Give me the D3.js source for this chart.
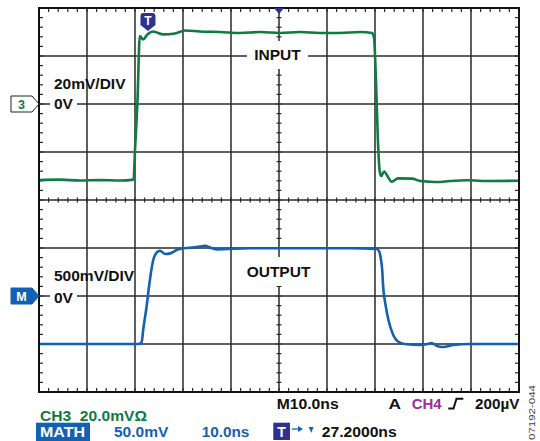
<!DOCTYPE html>
<html>
<head>
<meta charset="utf-8">
<script src="https://cdn.jsdelivr.net/npm/d3@7"></script>
<style>
  body { margin: 0; background: #fff; }
  text { font-family: "Liberation Sans", Arial, sans-serif; font-weight: bold; white-space: pre; }
</style>
</head>
<body>
<div id="scope"></div>
<script>
var width = 540;
var height = 441;

// plot frame: 10 x 8 divisions
var frame = {left: 39, top: 8, right: 519, bottom: 392}

// time in ns from left edge, 10 ns/div
var timeDomain = [0, 100]
var triggerTime = 22.7

// CH3 input, mV (20 mV/div, 0V two divisions down)
var inputTime = [0, 4.4, 8.5, 12.7, 16.9, 19.7, 20.0, 20.5, 21.0, 21.7, 22.5, 23.75, 24.8, 25.8, 28.3, 30.5, 33.5, 37.7, 41.9, 46.0, 50.2, 54.4, 58.5, 62.7, 66.9, 69.4, 69.8, 70.2, 70.6, 71.0, 71.3, 71.9, 72.7, 73.5, 74.8, 77.7, 79.4, 81.5, 82.9, 85.6, 89.2, 94.0, 100]
var inputMv = [-31.7, -31.5, -31.9, -31.7, -31.9, -31.5, -19.2, 0.4, 28.3, 26.9, 28.8, 30.2, 29.6, 29.0, 29.4, 30.6, 30.2, 30.0, 29.6, 30.0, 29.6, 30.0, 29.6, 29.6, 30.0, 29.6, 27.5, 10.0, -15.0, -28.3, -30.0, -28.1, -30.4, -32.4, -31.0, -31.1, -32.1, -32.4, -32.5, -32.1, -31.8, -32.1, -32.0]

// MATH output, mV (500 mV/div, 0V six divisions down)
var outputTime = [0, 12.7, 20.8, 21.4, 21.7, 22.4, 23.1, 23.8, 24.5, 25.2, 26.3, 27.3, 29.0, 30.1, 33.5, 34.6, 35.6, 37.0, 44.0, 54.4, 64.8, 70.4, 70.9, 71.2, 71.5, 71.7, 72.2, 72.8, 73.8, 75.2, 76.6, 79.4, 81.0, 81.8, 82.9, 84.2, 86.3, 89.8, 100]
var outputMv = [-500, -500, -500, -479, -354, -115, 167, 375, 451, 472, 437, 444, 486, 497, 514, 524, 505, 486, 497, 497, 497, 490, 461, 393, 271, 97, -94, -250, -406, -486, -503, -510, -500, -490, -521, -531, -510, -500, -500]

var xDivs = 10
var yDivs = 8
var minorPerDiv = 5

var svg = d3.select("#scope").append("svg")
.attr("width", width)
.attr("height", height)

var x = d3.scaleLinear().domain(timeDomain).range([frame.left, frame.right])
var yIn = d3.scaleLinear().domain([-120, 40]).range([frame.bottom, frame.top])
var yOut = d3.scaleLinear().domain([-1000, 3000]).range([frame.bottom, frame.top])

var gridColor = "#2a2a2a"
var green = "#0f7a42"
var blue = "#1261b4"
var navy = "#2e3192"

var xDiv = d3.range(0, xDivs + 1).map(i => timeDomain[0] + i * 10)
var minorX = d3.range(0, xDivs * minorPerDiv + 1).map(i => i * 2)
var yPix = d3.range(0, yDivs + 1).map(i => frame.top + i * (frame.bottom - frame.top) / yDivs)
var minorY = d3.range(0, yDivs * minorPerDiv + 1).map(i => frame.top + i * (frame.bottom - frame.top) / (yDivs * minorPerDiv))
var midX = x(50)
var midY = (frame.top + frame.bottom) / 2

var grid = svg.append("g")

grid.selectAll(".vline")
.data(xDiv.slice(1, -1))
.enter().append("line")
.attr("x1", d => x(d)).attr("x2", d => x(d))
.attr("y1", frame.top).attr("y2", frame.bottom)
.attr("stroke", gridColor).attr("stroke-width", 1.5)

grid.selectAll(".hline")
.data(yPix.slice(1, -1))
.enter().append("line")
.attr("x1", frame.left).attr("x2", frame.right)
.attr("y1", d => d).attr("y2", d => d)
.attr("stroke", gridColor).attr("stroke-width", 1.5)

// minor ticks on the border and along the centre axes
var ticks = grid.append("g").attr("stroke", gridColor).attr("stroke-width", 1.2)
minorX.forEach(function(t) {
  var px = x(t)
  ticks.append("line").attr("x1", px).attr("x2", px).attr("y1", frame.top).attr("y2", frame.top + 4)
  ticks.append("line").attr("x1", px).attr("x2", px).attr("y1", frame.bottom - 4).attr("y2", frame.bottom)
  ticks.append("line").attr("x1", px).attr("x2", px).attr("y1", midY - 2.5).attr("y2", midY + 2.5)
})
minorY.forEach(function(py) {
  ticks.append("line").attr("x1", frame.left).attr("x2", frame.left + 4).attr("y1", py).attr("y2", py)
  ticks.append("line").attr("x1", frame.right - 4).attr("x2", frame.right).attr("y1", py).attr("y2", py)
  ticks.append("line").attr("x1", midX - 2.5).attr("x2", midX + 2.5).attr("y1", py).attr("y2", py)
})

// labels with white boxes that break the grid
function boxLabel(txt, cx, base, x0, x1, y0, y1) {
  svg.append("rect").attr("x", x0).attr("y", y0).attr("width", x1 - x0).attr("height", y1 - y0).attr("fill", "#fff")
  svg.append("text").attr("x", cx).attr("y", base).attr("text-anchor", "middle")
  .style("font-size", "15.5px").attr("fill", "#111").text(txt)
}
boxLabel("INPUT", 277.5, 60, 247, 308, 41, 69)
boxLabel("OUTPUT", 278.5, 277, 243, 314, 257, 286)

svg.append("rect").attr("x", 50).attr("y", yIn(0) - 8).attr("width", 27).attr("height", 16).attr("fill", "#fff")
svg.append("rect").attr("x", 50).attr("y", yOut(0) - 8).attr("width", 27).attr("height", 16).attr("fill", "#fff")

svg.append("text").attr("x", 54).attr("y", yIn(0) - 14.7).style("font-size", "15.5px").attr("fill", "#111").text("20mV/DIV")
svg.append("text").attr("x", 54).attr("y", yIn(0) + 5).style("font-size", "15.5px").attr("fill", "#111").text("0V")
svg.append("text").attr("x", 54).attr("y", yOut(0) - 15.3).style("font-size", "15.5px").attr("fill", "#111").text("500mV/DIV")
svg.append("text").attr("x", 54).attr("y", yOut(0) + 6.7).style("font-size", "15.5px").attr("fill", "#111").text("0V")

// traces
var lineIn = d3.line().x((d, i) => x(inputTime[i])).y(d => yIn(d)).curve(d3.curveMonotoneX)
var lineOut = d3.line().x((d, i) => x(outputTime[i])).y(d => yOut(d)).curve(d3.curveMonotoneX)

svg.append("path").attr("d", lineIn(inputMv))
.attr("fill", "none").attr("stroke", green).attr("stroke-width", 2.6).attr("stroke-linejoin", "round")
svg.append("path").attr("d", lineOut(outputMv))
.attr("fill", "none").attr("stroke", blue).attr("stroke-width", 2.6).attr("stroke-linejoin", "round")

// frame
svg.append("rect").attr("x", frame.left).attr("y", frame.top)
.attr("width", frame.right - frame.left).attr("height", frame.bottom - frame.top)
.attr("fill", "none").attr("stroke", "#111").attr("stroke-width", 2)

// trigger marker and delay triangle
var tx = x(triggerTime)
svg.append("path")
.attr("d", "M" + (tx - 7.5) + ",16 Q" + (tx - 7.5) + ",13 " + (tx - 4.5) + ",13 L" + (tx + 4.5) + ",13 Q" + (tx + 7.5) + ",13 " + (tx + 7.5) + ",16 L" + (tx + 7.5) + ",25 L" + tx + ",31 L" + (tx - 7.5) + ",25 Z")
.attr("fill", navy)
svg.append("text").attr("x", tx).attr("y", 25).attr("text-anchor", "middle").style("font-size", "12px").attr("fill", "#fff").text("T")
svg.append("path").attr("d", "M" + (midX - 5) + ",8 L" + (midX + 5) + ",8 L" + midX + ",14 Z").attr("fill", navy)

// channel markers
function marker(yc, fill, stroke, color, label) {
  svg.append("path")
  .attr("d", "M11," + (yc - 8) + " L32," + (yc - 8) + " L39," + yc + " L32," + (yc + 8) + " L11," + (yc + 8) + " Z")
  .attr("fill", fill).attr("stroke", stroke).attr("stroke-width", 1)
  svg.append("text").attr("x", 21.5).attr("y", yc + 4.5).attr("text-anchor", "middle")
  .style("font-size", "12.5px").attr("fill", color).text(label)
}
marker(yIn(0), "#fff", "#222", green, "3")
marker(yOut(0), blue, blue, "#fff", "M")

// status readout
function status(txt, x0, base, len, color) {
  svg.append("text").attr("x", x0).attr("y", base).style("font-size", "14px")
  .attr("textLength", len).attr("lengthAdjust", "spacingAndGlyphs").attr("fill", color).text(txt)
}
status("M10.0ns", 276.7, 409.3, 62, "#111")
status("A", 388.5, 409.3, 12.5, "#111")
status("CH4", 411.7, 409.3, 30, "#9a2f95")
svg.append("path").attr("d", "M448.3,408.5 L453.5,408.5 L456.5,398.8 L463.3,398.8")
.attr("fill", "none").attr("stroke", "#111").attr("stroke-width", 2)
status("200µV", 475, 409.3, 44.3, "#111")

status("CH3  20.0mVΩ", 40, 420.7, 107, green)
svg.append("rect").attr("x", 36).attr("y", 422.7).attr("width", 54).attr("height", 18.3).attr("fill", blue)
status("MATH", 40, 436.7, 45, "#fff")
status("50.0mV", 114, 436.7, 54.3, blue)
status("10.0ns", 201.7, 436.7, 47.6, blue)
svg.append("rect").attr("x", 273.3).attr("y", 422.7).attr("width", 16.7).attr("height", 17.3).attr("fill", navy)
svg.append("text").attr("x", 281.6).attr("y", 437).attr("text-anchor", "middle").style("font-size", "14px").attr("fill", "#fff").text("T")
svg.append("line").attr("x1", 292).attr("x2", 299).attr("y1", 429).attr("y2", 429).attr("stroke", blue).attr("stroke-width", 1.3)
svg.append("path").attr("d", "M298,426 L303,429 L298,432 Z").attr("fill", blue)
svg.append("path").attr("d", "M308.8,427 L313.6,427 L311.2,433 Z").attr("fill", blue)
status("27.2000ns", 321.7, 436.7, 75, "#111")

svg.append("text")
.attr("transform", "translate(535,440) rotate(-90)")
.style("font-size", "9px").style("font-weight", "normal")
.attr("textLength", 55).attr("lengthAdjust", "spacingAndGlyphs")
.attr("fill", "#444").text("07192-044")
</script>
</body>
</html>
